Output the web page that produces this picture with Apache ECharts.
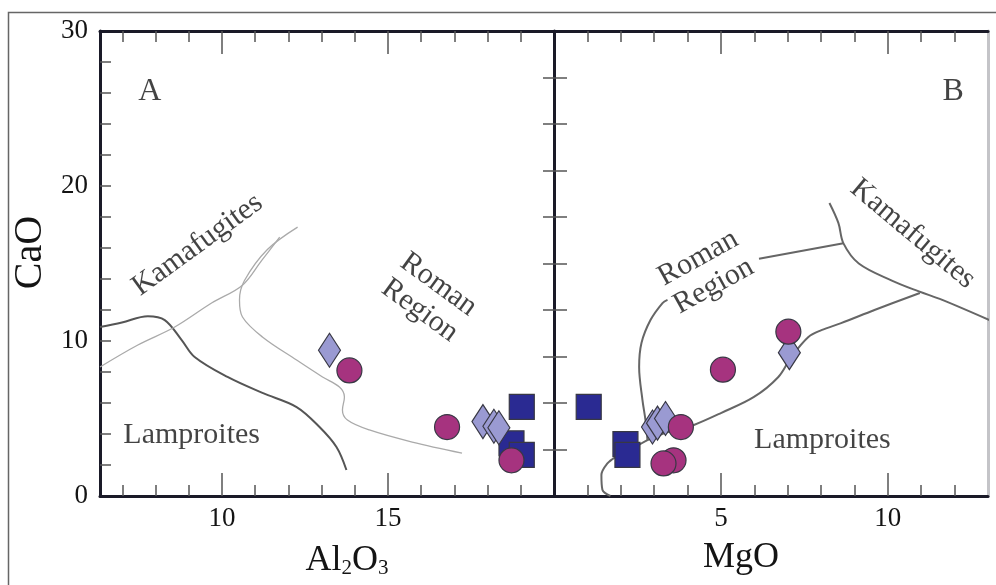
<!DOCTYPE html>
<html><head><meta charset="utf-8">
<script src="https://cdn.jsdelivr.net/npm/echarts@6/dist/echarts.min.js"></script>
<style>html,body{margin:0;padding:0;background:#fff}#c{width:996px;height:585px}</style>
</head><body><div id="c"></div>
<script>
// ---------- Panel A : CaO vs Al2O3 ----------
const circlesA  = [[13.84,8.1],[16.78,4.45],[18.72,2.3]];
const diamondsA = [[13.24,9.4],[17.86,4.8],[18.19,4.5],[18.34,4.4]];
const squaresA  = [[19.03,5.75],[18.72,3.4],[19.03,2.65]];
const lampCurveA = [[6.33,10.9],[6.99,11.2],[7.77,11.6],[8.28,11.35],[8.79,10.06],[9.18,8.97],[10.17,7.68],[11.22,6.65],[12.25,5.74],[12.94,4.45],[13.45,3.16],[13.75,1.68]];
const kamaLineA = [[6.33,8.32],[7.47,9.74],[8.58,10.9],[9.69,12.45],[10.62,13.6],[11.2,15.2],[11.74,16.7]];
const romanLineA = [[12.28,17.35],[11.37,15.9],[10.68,13.9],[10.53,12.65],[10.62,11.55],[11.22,10.26],[12.25,8.77],[13.03,7.68],[13.54,7.03],[13.69,6.39],[13.63,5.55],[13.78,4.9],[14.44,4.26],[15.73,3.48],[17.23,2.77]];
// ---------- Panel B : CaO vs MgO ----------
const circlesB  = [[3.8,4.45],[3.58,2.3],[3.28,2.1],[5.06,8.15],[7.02,10.6]];
const diamondsB = [[2.95,4.45],[3.1,4.7],[3.34,5.0],[7.05,9.25]];
const squaresB  = [[1.04,5.75],[2.14,3.35],[2.2,2.65]];
const lampCurveB = [[1.69,0],[1.45,0.4],[1.42,1.35],[1.6,2.1],[1.84,2.5],[2.3,3.0],[2.8,3.6],[3.3,4.05],[3.8,4.35],[4.19,4.58],[5.0,5.35],[5.99,6.39],[6.72,7.68],[7.11,8.97],[7.62,10.26],[8.01,10.7],[8.6,11.15],[9.6,12.0],[10.96,13.1]];
const romanLineB = [[2.8,3.6],[2.74,4.9],[2.65,6.19],[2.55,8.32],[2.62,9.87],[2.89,11.35],[3.25,12.45],[3.4,12.65]];
const romanLineB2 = [[6.14,15.3],[8.67,16.3]];
const kamaLineB = [[8.25,18.9],[8.52,17.6],[8.67,16.3],[9.13,15.0],[10.12,13.9],[10.93,13.2],[11.63,12.65],[13.04,11.35]];
// ---------- ticks ----------
const yLabels = [0,10,20,30];
const yTicksA = [2,4,6,8,10,12,14,16,18,20,22,24,26,28];
const yTicksB = [3,6,9,12,15,18,21,24,27];
const xMajorA = [10,15];
const xMinorA = [7,8,9,11,12,13,14,16,17,18,19];
const xMajorB = [5,10];
const xMinorB = [1,2,3,4,6,7,8,9,11,12];
// ---------- annotations ----------
const annotA = [
  {text:'A', at:[7.83,26.06], rot:0, big:true},
  {text:'Kamafugites', at:[9.27,16.2], rot:36},
  {text:'Roman\nRegion', at:[16.24,12.8], rot:-36},
  {text:'Lamproites', at:[9.09,3.9], rot:0}
];
const annotB = [
  {text:'B', at:[11.96,26.1], rot:0, big:true},
  {text:'Roman\nRegion', at:[4.55,14.45], rot:29},
  {text:'Kamafugites', at:[10.75,16.9], rot:-40},
  {text:'Lamproites', at:[8.04,3.6], rot:0}
];

const FONT = "'Liberation Serif','DejaVu Serif',serif";
const AX = '#1a1a28';
const TK = '#555';
const TXT = '#141414';
const X_A = [6.33, 20], X_B = [0, 13], Y = [0, 30];

function ax(type, grid, pos, range, opt) {
  const a = {
    type:'value', gridIndex:grid, position:pos, min:range[0], max:range[1],
    axisLine:{show:false, onZero:false, lineStyle:{color:AX, width:3}},
    axisTick:{show:false},
    axisLabel:{show:false},
    splitLine:{show:false}
  };
  if (opt.line) a.axisLine = {show:true, onZero:false, lineStyle:{color:opt.line, width:3}};
  if (opt.ticks) a.axisTick = {show:true, inside:opt.inside !== false, length:opt.len, customValues:opt.ticks, lineStyle:{color:TK, width:1.5}};
  if (opt.labels) a.axisLabel = {show:true, customValues:opt.labels, fontSize:27, fontFamily:FONT, color:TXT, margin:opt.margin || 9};
  if (opt.extra) Object.assign(a, opt.extra);
  return a;
}

// grid 0 / 2 : panel A (major / minor ticks); grid 1 / 3 : panel B
const xAxes = [
  ax('x',0,'bottom',X_A,{line:AX, ticks:xMajorA, len:23, labels:xMajorA, extra:{
    name:'{m|Al}{s|2}{m|O}{s|3}', nameLocation:'middle', nameGap:40,
    nameTextStyle:{color:TXT, fontFamily:FONT, padding:[0,0,0,40],
      rich:{m:{fontSize:36,fontFamily:FONT,color:TXT,lineHeight:36,verticalAlign:'top'},
            s:{fontSize:21,fontFamily:FONT,color:TXT,lineHeight:21,verticalAlign:'bottom',padding:[21,0,0,0]}}}}}),
  ax('x',0,'top',X_A,{line:AX, ticks:xMajorA, len:23}),
  ax('x',1,'bottom',X_B,{line:AX, ticks:xMajorB, len:23, labels:xMajorB, extra:{
    name:'MgO', nameLocation:'middle', nameGap:44,
    nameTextStyle:{color:TXT, fontFamily:FONT, fontSize:36, padding:[0,60,0,0]}}}),
  ax('x',1,'top',X_B,{line:AX, ticks:xMajorB, len:23}),
  ax('x',2,'bottom',X_A,{ticks:xMinorA, len:11}),
  ax('x',2,'top',X_A,{ticks:xMinorA, len:11}),
  ax('x',3,'bottom',X_B,{ticks:xMinorB, len:11}),
  ax('x',3,'top',X_B,{ticks:xMinorB, len:11})
];

const yAxes = [
  ax('y',0,'left',Y,{line:AX, ticks:yTicksA, len:11, labels:yLabels, margin:12, extra:{
    name:'CaO', nameLocation:'middle', nameGap:50, nameRotate:90,
    nameTextStyle:{fontSize:40, fontFamily:FONT, color:TXT, padding:[0,0,0,22]}}}),
  ax('y',1,'left',Y,{line:AX, ticks:yTicksB, len:13}),
  ax('y',1,'right',Y,{line:'#c4c4c8'}),
  ax('y',3,'left',Y,{ticks:yTicksB, len:11, inside:false}),
  ax('y',2,'left',Y,{})
];

const MK_BORDER = {borderColor:'#383844', borderWidth:1.2};
function scatter(data, xi, yi, symbol, size, color, z) {
  return {type:'scatter', xAxisIndex:xi, yAxisIndex:yi, data:data, symbol:symbol, symbolSize:size,
          itemStyle:Object.assign({color:color, opacity:1}, MK_BORDER), z:z, silent:true};
}
function curve(data, xi, yi, color, width) {
  return {type:'line', xAxisIndex:xi, yAxisIndex:yi, data:data, smooth:0.35, symbol:'none',
          lineStyle:{color:color, width:width}, z:2, silent:true};
}
function annot(list, xi, yi) {
  return {type:'scatter', xAxisIndex:xi, yAxisIndex:yi, symbolSize:0, silent:true, z:5,
    data: list.map(a => ({value:a.at, label:{show:true, position:'inside', formatter:a.text, rotate:a.rot,
      fontSize:a.big ? 32 : 30, fontFamily:FONT, color:TXT, lineHeight:32, align:'center', verticalAlign:'middle'}}))};
}
const CIRC = '#a6337f', DIAM = '#9a9ad2', SQR = '#2a2a92';

const option = {
  animation:false,
  backgroundColor:'#ffffff',
  grid:[
    {left:100, top:31, width:454, height:465},
    {left:554, top:31, width:434, height:465},
    {left:100, top:31, width:454, height:465},
    {left:554, top:31, width:434, height:465}
  ],
  xAxis:xAxes,
  yAxis:yAxes,
  graphic:[{type:'rect', left:6, top:10, shape:{width:1100, height:700}, style:{fill:'none', stroke:'#666', lineWidth:1.5}, z:-1, silent:true}],
  series:[
    curve(lampCurveA,0,0,'#555',2),
    curve(kamaLineA,0,0,'#aaa',1.3),
    curve(romanLineA,0,0,'#aaa',1.3),
    curve(lampCurveB,2,1,'#666',2),
    curve(romanLineB,2,1,'#666',2),
    curve(romanLineB2,2,1,'#666',2),
    curve(kamaLineB,2,1,'#666',2),
    scatter(squaresA,0,0,'rect',25,SQR,3),
    scatter(diamondsA,0,0,'diamond',[22,34],DIAM,4),
    scatter(circlesA,0,0,'circle',25,CIRC,5),
    scatter(squaresB,2,1,'rect',25,SQR,3),
    scatter(diamondsB,2,1,'diamond',[22,34],DIAM,4),
    scatter(circlesB,2,1,'circle',25,CIRC,5),
    annot(annotA,0,0),
    annot(annotB,2,1)
  ]
};
const chart = echarts.init(document.getElementById('c'), null, {renderer:'canvas'});
chart.setOption(option);
</script></body></html>
